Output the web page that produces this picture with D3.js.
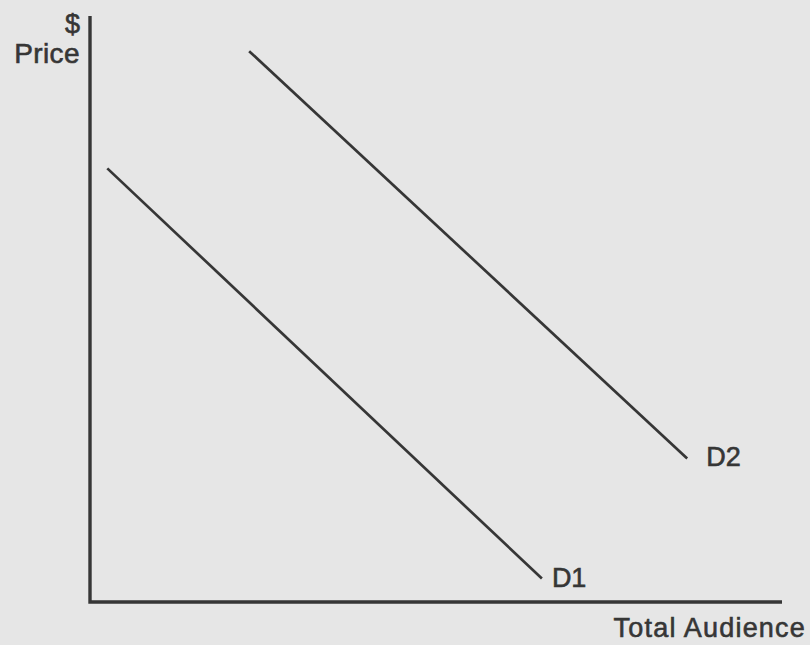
<!DOCTYPE html>
<html>
<head>
<meta charset="utf-8">
<script src="https://cdn.jsdelivr.net/npm/d3@7"></script>
<style>
	body { margin: 0; background: #e6e6e6; }
	svg { display: block; }
	text { font-family: "Liberation Sans", Arial, sans-serif; fill: #363636; stroke: #363636; stroke-width: 0.6px; }
</style>
</head>
<body>
<div id="chart"></div>
<script>

//Demand curves (quantity 0-100, price 0-100)
var curveNames = ["D1", "D2"];
var d1Points = [{q: 2.5, p: 74}, {q: 65.3, p: 4}];
var d2Points = [{q: 23, p: 94}, {q: 86.3, p: 24.5}];
var axisLabels = {y: ["$", "Price"], x: "Total Audience"};

///////////////////////////////////////////////////////////////////////////
//////////////////// Set up and initiate svg containers ///////////////////
///////////////////////////////////////////////////////////////////////////

var width = 810,
	height = 645;
var margin = {top: 16, right: 28, bottom: 43, left: 90};

var svg = d3.select("#chart")
	.append("svg")
	.attr("width", width)
	.attr("height", height);

var x = d3.scaleLinear()
	.domain([0, 100])
	.range([margin.left, width - margin.right]);

var y = d3.scaleLinear()
	.domain([0, 100])
	.range([height - margin.bottom, margin.top]);

var ink = "#363636";

///////////////////////////////////////////////////////////////////////////
/////////////////////////////// Draw axes /////////////////////////////////
///////////////////////////////////////////////////////////////////////////

svg.append("path")
	.attr("class", "axes")
	.attr("d", "M" + x(0) + "," + y(100) + "L" + x(0) + "," + y(0) + "L" + x(100) + "," + y(0))
	.style("fill", "none")
	.style("stroke", ink)
	.style("stroke-width", 3.4);

//Y axis label
svg.append("text")
	.attr("x", x(0) - 10)
	.attr("y", y(100) + 17)
	.attr("text-anchor", "end")
	.style("font-size", "27px")
	.text(axisLabels.y[0]);

svg.append("text")
	.attr("x", x(0) - 10)
	.attr("y", y(100) + 47)
	.attr("text-anchor", "end")
	.style("font-size", "28px")
	.style("letter-spacing", "0.4px")
	.text(axisLabels.y[1]);

//X axis label
svg.append("text")
	.attr("x", width - 4)
	.attr("y", y(0) + 35)
	.attr("text-anchor", "end")
	.style("font-size", "27px")
	.style("letter-spacing", "1.2px")
	.text(axisLabels.x);

///////////////////////////////////////////////////////////////////////////
///////////////////////////// Demand curves ///////////////////////////////
///////////////////////////////////////////////////////////////////////////

var line = d3.line()
	.x(function(d) { return x(d.q); })
	.y(function(d) { return y(d.p); });

var curves = [d1Points, d2Points];
var labelGap = [10, 19];

svg.selectAll(".demand")
	.data(curves)
	.enter().append("path")
	.attr("class", "demand")
	.attr("d", line)
	.style("fill", "none")
	.style("stroke", ink)
	.style("stroke-width", 2.7);

svg.selectAll(".demand-label")
	.data(curves)
	.enter().append("text")
	.attr("class", "demand-label")
	.attr("x", function(d,i) { return x(d[d.length-1].q) + labelGap[i]; })
	.attr("y", function(d) { return y(d[d.length-1].p) + 8; })
	.style("font-size", "27px")
	.text(function(d,i) { return curveNames[i]; });

</script>
</body>
</html>
